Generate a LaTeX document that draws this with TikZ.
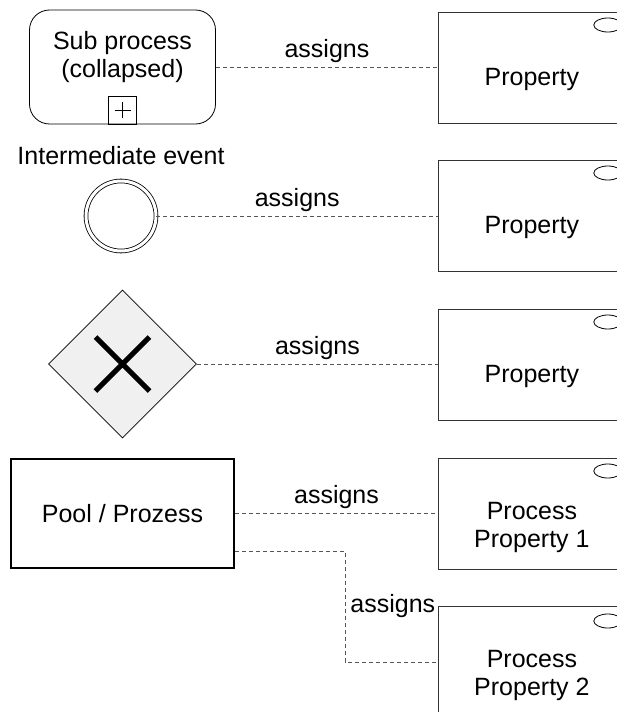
\documentclass[tikz,border=0pt]{standalone}
\usepackage{fontspec}
\setmainfont{Liberation Sans}
\usetikzlibrary{shapes.geometric,positioning}
\definecolor{gatefill}{RGB}{240,240,240}
\definecolor{linkgray}{RGB}{85,85,85}

\begin{document}
\begin{tikzpicture}[
        x=1pt, y=-1pt,
        font=\fontsize{25}{28}\selectfont,
        declare function={
            PropX=438;
            MidX=122.5;
        },
        prop/.style={draw=black!80, line width=0.8pt, rectangle, anchor=north west,
            minimum width=187pt, minimum height=111pt, inner sep=0pt},
        proptext/.style={align=center, inner sep=3pt},
        assoc/.style={draw=linkgray, dash pattern=on 4pt off 3pt, line width=0.8pt},
        lbl/.style={above, inner sep=4pt},
    ]
        \useasboundingbox (0,0) rectangle (617,712);
        \clip (0,0) rectangle (617,712);

        % property boxes on the right
        \node[prop] (p1) at (PropX, 12) {};
        \node[prop] (p2) at (PropX, 160) {};
        \node[prop] (p3) at (PropX, 309) {};
        \node[prop] (p4) at (PropX, 458) {};
        \node[prop] (p5) at (PropX, 606) {};

        \draw[line width=0.8pt] (p1.north east) ++(-18,13) ellipse (14pt and 7pt);
        \draw[line width=0.8pt] (p2.north east) ++(-18,13) ellipse (14pt and 7pt);
        \draw[line width=0.8pt] (p3.north east) ++(-18,13) ellipse (14pt and 7pt);
        \draw[line width=0.8pt] (p4.north east) ++(-18,13) ellipse (14pt and 7pt);
        \draw[line width=0.8pt] (p5.north east) ++(-18,15) ellipse (14pt and 7pt);

        \node[proptext, anchor=base] (t1) at ([yshift=-18pt]p1.center) {Property};
        \node[proptext, anchor=base] (t2) at ([yshift=-18pt]p2.center) {Property};
        \node[proptext, anchor=base] (t3) at ([yshift=-18pt]p3.center) {Property};
        \node[proptext] (t4) at ([yshift=-14pt]p4.center) {Process\\Property 1};
        \node[proptext] (t5) at ([yshift=-14pt]p5.center) {Process\\Property 2};

        % sub process
        \node[draw, line width=0.8pt, rounded corners=20pt, minimum width=186pt, minimum height=114pt] (sub) at (MidX, 67) {};
        \node[proptext] (subtxt) at (MidX, 57.5) {Sub process\\(collapsed)};
        \node[draw, line width=0.8pt, minimum size=28pt, inner sep=0pt, anchor=south] (plus) at (sub.south) {};
        \draw[line width=0.8pt] (plus.center) +(-8,0) -- +(8,0) (plus.center) +(0,-8) -- +(0,8);

        % intermediate event
        \node[circle, draw, double, double distance=3pt, line width=0.8pt, minimum size=70pt, inner sep=0pt] (ev) at (121, 216) {};
        \node[above=13pt of ev, inner sep=3pt] (evlbl) {Intermediate event};

        % gateway
        \node[diamond, draw, fill=gatefill, line width=0.8pt, minimum width=148pt, minimum height=148pt, inner sep=0pt] (gw) at (MidX, 364) {};
        \draw[line width=5pt] (gw.center) +(-27,-27) -- +(27,27) (gw.center) +(-27,27) -- +(27,-27);

        % pool
        \node[draw, line width=2pt, minimum width=223pt, minimum height=109pt, inner sep=0pt] (pool) at (MidX, 513.5) {Pool / Prozess};

        % associations
        \draw[assoc] (sub.east) -- node[lbl] {assigns} (sub.east -| p1.west);
        \draw[assoc] (ev.east) -- node[lbl] {assigns} (ev.east -| p2.west);
        \draw[assoc] (gw.east) -- node[lbl] {assigns} (gw.east -| p3.west);
        \draw[assoc] (pool.east) -- node[lbl] {assigns} (pool.east -| p4.west);
        \coordinate (bend) at (345, 551);
        \draw[assoc] ([yshift=-37.5pt]pool.east) -- (bend) |- node[pos=0.25, right, inner sep=3pt, xshift=2pt] {assigns} (p5.west);
    \end{tikzpicture}
\end{document}
